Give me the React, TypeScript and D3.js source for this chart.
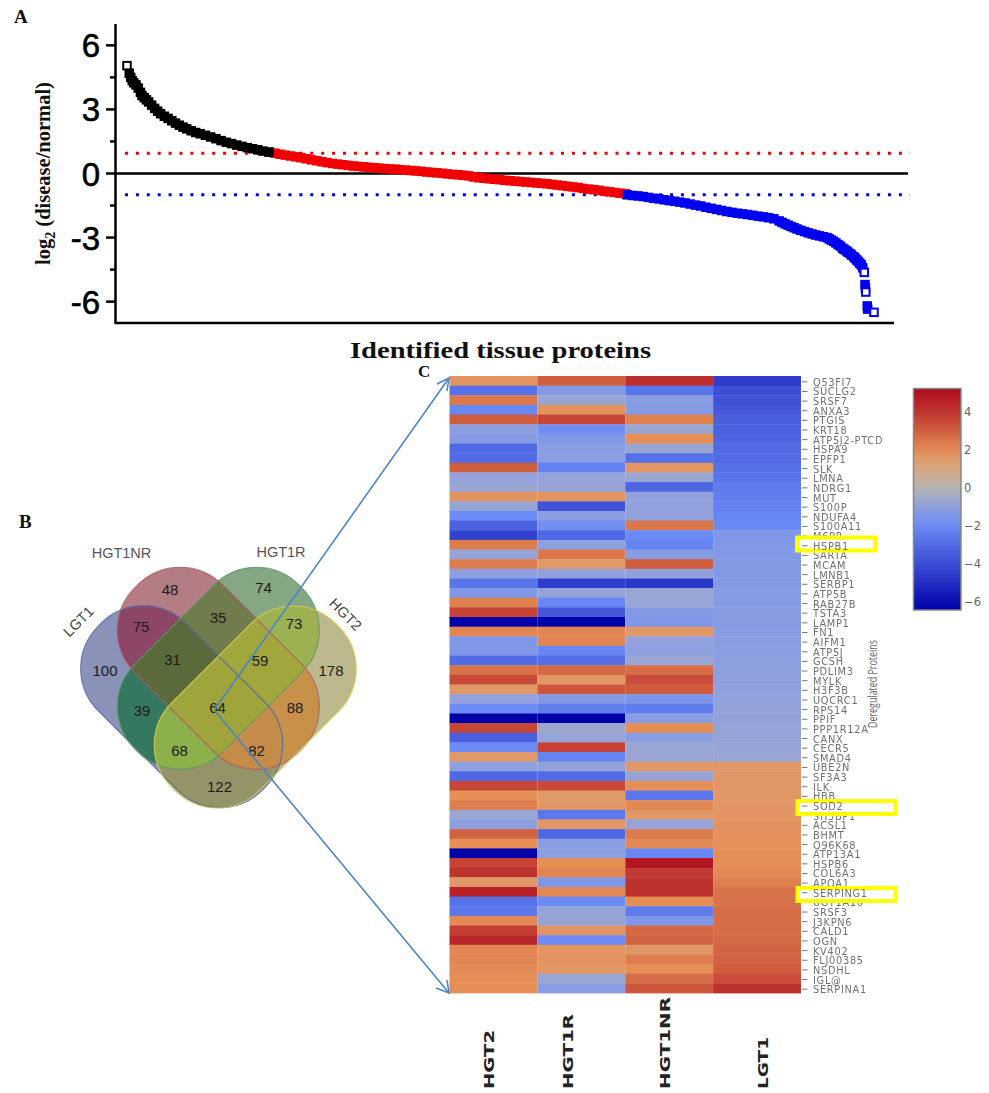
import React from "react";
import * as d3 from "d3";

// ---------- Panel A data (rank, log2 ratio) ----------
const blackRanks = [0,3,5,7,9,12,15,18,20,23,26,29,33,37,41,45,50,55,60,65,70,75,80,86,92,98,105,112,119,126,133,140,147,154,161,168,175,182,190];
const blackValues = [5.05,4.7,4.5,4.35,4.25,4.15,4.0,3.8,3.65,3.55,3.45,3.35,3.2,3.05,2.92,2.8,2.68,2.58,2.47,2.36,2.26,2.17,2.09,2.0,1.92,1.86,1.79,1.71,1.63,1.54,1.46,1.4,1.33,1.27,1.21,1.16,1.11,1.05,1.0];
const redValues = [1.0,.95,.9,.86,.82,.78,.74,.69,.64,.6,.55,.51,.47,.44,.41,.38,.35,.33,.31,.29,.27,.25,.23,.21,.2,.18,.16,.14,.12,.1,.07,.05,.03,.01,-.02,-.04,-.06,-.08,-.11,-.16,-.2,-.22,-.25,-.27,-.29,-.32,-.34,-.36,-.38,-.4,-.42,-.44,-.46,-.48,-.51,-.54,-.57,-.6,-.63,-.66,-.7,-.73,-.76,-.79,-.83,-.86,-.89,-.92,-.95];
const redRanks = redValues.map((_, i) => 191 + i * 7);
const blueRanks = [670,677,684,691,698,705,712,719,726,733,740,747,754,761,768,775,782,789,796,803,810,817,824,831,838,845,852,859,866,873,877,881,885,889,893,897,902,907,912,917,922,927,932,937,940,943,946,949,952,955,958,960,963,965,968,970,973,975,977,979,981,983,985,987,988,988.5,989,991,991.5,1000];
const blueValues = [-1.0,-1.03,-1.05,-1.08,-1.12,-1.16,-1.19,-1.23,-1.27,-1.3,-1.34,-1.38,-1.43,-1.48,-1.52,-1.58,-1.63,-1.68,-1.73,-1.78,-1.82,-1.86,-1.89,-1.92,-1.96,-2.0,-2.03,-2.07,-2.12,-2.22,-2.29,-2.36,-2.42,-2.48,-2.54,-2.6,-2.66,-2.72,-2.78,-2.83,-2.88,-2.92,-2.96,-3.0,-3.06,-3.12,-3.18,-3.25,-3.33,-3.4,-3.5,-3.55,-3.62,-3.68,-3.75,-3.82,-3.9,-3.98,-4.05,-4.12,-4.2,-4.28,-4.42,-4.63,-5.2,-5.35,-5.55,-6.2,-6.35,-6.5];
const yMajor = [-6, -3, 0, 3, 6];
const yMinor = [-4.5, -1.5, 1.5, 4.5];

// ---------- Panel B data ----------
const setKeys = ["L", "N", "R", "Y"];
const setNames = ["LGT1", "HGT1NR", "HGT1R", "HGT2"];
const regionKeys = ["L","N","R","Y","LN","NR","RY","LR","NY","LY","LNR","NRY","LRY","LNY","LNRY"];
const regionColors = ["#8a92b8","#b47d84","#86a783","#bdb98c","#8e4668","#717c4c","#9cb14f","#34795f","#c89149","#949468","#5a6a3a","#a1a73d","#8cb04a","#c48c48","#a0a53b"];
const vennCounts = [100,48,74,178,75,35,73,39,88,122,31,59,68,82,64];

// ---------- Panel C data ----------
const proteins = ["Q53FI7","SUCLG2","SRSF7","ANXA3","PTGIS","KRT18","ATP5J2-PTCD","HSPA9","EPFP1","SLK","LMNA","NDRG1","MUT","S100P","NDUFA4","S100A11","M6PR","HSPB1","SARTA","MCAM","LMNB1","SERBP1","ATP5B","RAB27B","TSTA3","LAMP1","FN1","AIFM1","ATP5J","GCSH","PDLIM3","MYLK","H3F3B","UQCRC1","RPS14","PPIF","PPP1R12A","CANX","CECR5","SMAD4","UBE2N","SF3A3","ILK","HBB","SOD2","SH3BP1","ACSL1","BHMT","Q96K68","ATP13A1","HSPB6","COL6A3","APOA1","SERPING1","UGT1A10","SRSF3","J3KPN6","CALD1","OGN","KV402","FLJ00385","NSDHL","IGL@","SERPINA1"];
const groups = ["HGT2", "HGT1R", "HGT1NR", "LGT1"];
const hgt2 = [1.8,-2.8,2.5,-2.1,3.1,-1.0,-1.2,-3.0,-3.0,3.0,-0.9,-0.7,1.8,-0.8,-2.0,-3.3,-4.3,2.4,-0.8,2.4,-1.0,-2.7,-1.4,2.3,3.7,-6.4,2.2,-1.4,-1.4,-3.0,2.6,3.5,1.6,-0.9,-2.0,-6.4,3.6,-3.4,-2.0,1.6,-1.0,-3.1,3.6,2.0,2.4,-0.7,-1.0,2.9,2.0,-6.4,3.7,4.1,1.6,4.5,-2.8,-2.6,2.1,3.8,4.4,2.2,2.2,2.1,2.0,2.0];
const hgt1r = [3.0,-1.3,-0.7,1.9,3.6,-1.8,-1.4,-1.1,-1.1,-2.3,-0.8,-0.8,1.8,-3.8,-1.1,-1.8,-3.1,-1.0,2.5,1.6,-0.9,-4.5,-0.8,-2.1,-3.6,-6.4,2.2,2.2,-2.1,-2.9,2.8,1.7,3.2,-1.3,-2.4,-6.4,-0.6,-0.8,3.7,-2.2,-0.9,-3.0,3.5,1.6,1.7,-2.6,1.7,-3.1,-1.1,-1.0,2.0,2.2,-1.4,2.1,-2.0,-0.8,-0.8,1.7,-1.9,1.8,1.8,1.7,-0.7,-1.1];
const hgt1nr = [4.2,-2.7,-1.1,-1.2,2.3,-0.7,2.0,-0.7,-2.8,1.7,-0.7,-3.2,-0.9,-0.9,-0.9,2.5,-2.0,-2.2,-1.2,3.1,-0.9,-4.6,-0.7,-0.7,-1.3,-1.4,1.6,-0.9,-1.0,-0.7,2.7,3.4,3.1,-1.5,-2.5,-1.1,2.0,-1.1,-0.7,-0.7,1.6,-0.8,2.0,-2.6,2.1,1.6,-0.8,2.4,2.1,-2.1,5.0,3.9,4.1,4.1,2.0,-2.5,-1.4,2.8,2.9,1.6,2.4,2.0,2.7,3.2];
const lgt1 = [-4.5,-3.9,-3.8,-3.6,-3.4,-3.3,-3.2,-3.1,-3.0,-2.8,-2.7,-2.5,-2.4,-2.3,-2.1,-2.0,-1.4,-1.35,-1.3,-1.3,-1.25,-1.25,-1.2,-1.2,-1.15,-1.15,-1.1,-1.1,-1.05,-1.0,-1.0,-0.95,-0.95,-0.9,-0.85,-0.85,-0.8,-0.8,-0.75,-0.7,1.6,1.65,1.65,1.7,1.7,1.75,1.8,1.85,1.9,1.95,2.0,2.1,2.3,2.6,2.6,2.7,2.7,2.7,2.8,2.9,2.9,3.1,3.4,4.1];
const columns = [hgt2, hgt1r, hgt1nr, lgt1];
const highlighted = ["HSPB1", "SOD2", "SERPING1"];
const colorDomain = [-6.4,-4,-2,-1,0,1,2,3,4,5.3];
const colorRange = ["#0000a8","#3a4cd4","#6a8af5","#8e9fe0","#b4b4b4","#d8a882","#e58e56","#d05f40","#c03530","#ac0a1c"];
const colorTicks = [-6,-4,-2,0,2,4];

// ---------- layout ----------
const W = 989, H = 1093;
const serif = "'Liberation Serif', serif";
const sans = "'Liberation Sans', sans-serif";
const dejavu = "'DejaVu Sans', sans-serif";

const y = d3.scaleLinear().domain([-7, 7]).range([323, 24]);
const x = d3.scaleLinear().domain([0, 1000]).range([127, 874]);
const rowY = d3.scaleBand<string>().domain(proteins).range([376, 993]);
const colX = d3.scaleBand<string>().domain(groups).range([449.5, 801]);
const color = d3.scaleLinear<string>().domain(colorDomain).range(colorRange).interpolate(d3.interpolateRgb).clamp(true);
const barY = d3.scaleLinear().domain([-6.4, 5.26]).range([610, 388]);

// venn geometry: centre x, centre y, rotation
const vennShape: Record<string, number[]> = {
  L: [181.7, 706.7, 45],
  N: [218.3, 668.3, 45],
  R: [218.3, 668.3, -45],
  Y: [255.3, 707, -45],
};
const vennLen = 232, vennWid = 124, vennCorner = 60;
const vennPos = [[105,670.5],[170,589.5],[263.5,587.5],[331,670],[141,626.5],[218,617.5],[294,623.5],[142,710],[295,707.5],[219.5,786],[172.5,659.5],[260,660.5],[179.5,750.5],[256.5,750],[217.5,707.5]];
const vennBorder: Record<string, string> = { L: "#5566aa", N: "#b05a68", R: "#5f9a68", Y: "#d6d64e" };

function Stadium({ k, ...rest }: any) {
  const [cx, cy, a] = vennShape[k];
  return <rect x={-vennLen / 2} y={-vennWid / 2} width={vennLen} height={vennWid} rx={vennCorner} ry={vennCorner} transform={`translate(${cx},${cy}) rotate(${a})`} {...rest} />;
}

function Squares({ ranks, values, stroke, reverse, openEnd }: any) {
  const pts = ranks.map((r: number, i: number) => ({ cx: x(r), cy: y(values[i]) }));
  if (reverse) pts.reverse();
  return (
    <g>
      {pts.map((p: any, i: number) => {
        const n = pts[i + 1];
        const hollow = n ? Math.hypot(n.cx - p.cx, n.cy - p.cy) > 8 : openEnd;
        return <rect key={i} x={p.cx - 3.75} y={p.cy - 3.75} width={7.5} height={7.5} fill={hollow ? "#fff" : stroke} stroke={stroke} strokeWidth={2} />;
      })}
    </g>
  );
}

function PanelA() {
  return (
    <g>
      <line x1={125} x2={910} y1={y(0.95)} y2={y(0.95)} stroke="#f00000" strokeWidth={3} strokeDasharray="3 7.9" />
      <line x1={125} x2={910} y1={y(-1)} y2={y(-1)} stroke="#0000e0" strokeWidth={3} strokeDasharray="3 7.9" />
      <line x1={115} x2={908} y1={y(0)} y2={y(0)} stroke="#000" strokeWidth={2.5} />
      <line x1={115.5} x2={115.5} y1={y(7)} y2={324} stroke="#000" strokeWidth={2.5} />
      <line x1={115} x2={894} y1={323} y2={323} stroke="#000" strokeWidth={2.5} />
      {yMajor.map((t) => (
        <g key={t}>
          <line x1={106} x2={115} y1={y(t)} y2={y(t)} stroke="#000" strokeWidth={2.5} />
          <text x={100} y={y(t) + 12} textAnchor="end" fontFamily={sans} fontSize={33} stroke="#000" strokeWidth={0.6}>{t}</text>
        </g>
      ))}
      {yMinor.map((t) => (
        <line key={t} x1={110} x2={115} y1={y(t)} y2={y(t)} stroke="#000" strokeWidth={2.5} />
      ))}
      <Squares ranks={redRanks} values={redValues} stroke="#f00000" />
      <Squares ranks={blueRanks} values={blueValues} stroke="#0000f0" openEnd />
      <Squares ranks={blackRanks} values={blackValues} stroke="#000" reverse openEnd />
      <text transform="translate(50,265) rotate(-90)" fontFamily={serif} fontWeight="bold" fontSize={20.5} fill="#111">
        log<tspan dy={5} fontSize={14}>2</tspan><tspan dy={-5}> (disease/normal)</tspan>
      </text>
      <text x={350} y={358} fontFamily={serif} fontWeight="bold" fontSize={24} textLength={301} lengthAdjust="spacingAndGlyphs" fill="#111">Identified tissue proteins</text>
      <text x={14} y={23} fontFamily={serif} fontWeight="bold" fontSize={19} fill="#111">A</text>
      <text x={19} y={528} fontFamily={serif} fontWeight="bold" fontSize={19} fill="#111">B</text>
      <text x={418} y={377} fontFamily={serif} fontWeight="bold" fontSize={17} fill="#111">C</text>
    </g>
  );
}

function PanelB() {
  const sorted = regionKeys.map((k, i) => ({ k, c: regionColors[i] })).sort((a, b) => a.k.length - b.k.length);
  return (
    <g>
      <defs>
        {setKeys.map((k) => (
          <clipPath id={`venn-${k}`} key={k}><Stadium k={k} /></clipPath>
        ))}
      </defs>
      {sorted.map(({ k, c }) =>
        k.split("").reduce(
          (child: any, letter: string) => <g clipPath={`url(#venn-${letter})`}>{child}</g>,
          <rect x={60} y={540} width={320} height={290} fill={c} />
        )
      ).map((el: any, i: number) => <g key={i}>{el}</g>)}
      {setKeys.map((k) => (
        <Stadium key={k} k={k} fill="none" stroke={vennBorder[k]} strokeWidth={1.2} strokeOpacity={0.8} />
      ))}
      {vennCounts.map((c, i) => (
        <text key={i} x={vennPos[i][0]} y={vennPos[i][1] + 5.5} textAnchor="middle" fontFamily={sans} fontSize={15} fill="#1c1c1c">{c}</text>
      ))}
      <text x={121.5} y={558} textAnchor="middle" fontFamily={sans} fontSize={14.5} fill="#555">{setNames[1]}</text>
      <text x={281} y={557} textAnchor="middle" fontFamily={sans} fontSize={14.5} fill="#555">{setNames[2]}</text>
      <text transform="translate(82,625) rotate(-45)" textAnchor="middle" fontFamily={sans} fontSize={14.5} fill="#444">{setNames[0]}</text>
      <text transform="translate(342,618) rotate(45)" textAnchor="middle" fontFamily={sans} fontSize={14.5} fill="#444">{setNames[3]}</text>
    </g>
  );
}

function PanelC() {
  const bh = rowY.bandwidth();
  const label = (p: string) => (
    <g key={p}>
      <line x1={802} x2={807.5} y1={rowY(p)! + bh / 2 + 1} y2={rowY(p)! + bh / 2 + 1} stroke="#777" strokeWidth={1} />
      <text x={813} y={rowY(p)! + bh / 2 + 5} fontFamily={dejavu} fontSize={9.8} letterSpacing={0.7} fill="#707070">{p}</text>
    </g>
  );
  const boxes = [[797, 537.5, 78, 13], [797.5, 801, 98, 13], [797.5, 888, 98, 13]];
  const stops = d3.range(0, 1.0001, 0.05).map((t) => barY.invert(610 - t * 222));
  return (
    <g>
      <defs>
        <filter id="soft" x="-2%" y="-2%" width="104%" height="104%"><feGaussianBlur stdDeviation="0.45" /></filter>
        <linearGradient id="bar" x1="0" y1="1" x2="0" y2="0">
          {stops.map((v, i) => <stop key={i} offset={i / (stops.length - 1)} stopColor={color(v)} />)}
        </linearGradient>
      </defs>
      <g filter="url(#soft)">
        {groups.map((g, c) =>
          proteins.map((p, r) => (
            <rect key={`${g}${p}`} x={colX(g)} y={rowY(p)} width={colX.bandwidth()} height={bh + 0.4} fill={color(columns[c][r])} />
          ))
        )}
        {proteins.map(label)}
      </g>
      {boxes.map((b, i) => (
        <rect key={i} x={b[0]} y={b[1]} width={b[2]} height={b[3]} fill="#fff" stroke="#ffff00" strokeWidth={4} />
      ))}
      <g filter="url(#soft)">{highlighted.map(label)}</g>
      <text transform="translate(877,728) rotate(-90)" fontFamily="'Open Sans', sans-serif" fontSize={13.5} textLength={88} lengthAdjust="spacingAndGlyphs" fill="#666">Deregulated Proteins</text>
      {groups.map((g, i) => {
        const tops = [1030, 1014, 997, 1037];
        const xs = [494, 573, 670, 768];
        return (
          <text key={g} transform={`translate(${xs[i]},1089) rotate(-90)`} fontFamily={dejavu} fontWeight="bold" fontSize={14.5} textLength={1089 - tops[i]} lengthAdjust="spacingAndGlyphs" fill="#222">{g}</text>
        );
      })}
      <rect x={913.5} y={388.5} width={47.5} height={221.5} fill="url(#bar)" stroke="#888" strokeWidth={1.5} />
      {colorTicks.map((t) => (
        <text key={t} x={964} y={barY(t) + 4} fontFamily={dejavu} fontSize={11.5} fill="#666">{t < 0 ? `\u2212${-t}` : t}</text>
      ))}
    </g>
  );
}

function Arrows() {
  const s = "#4a86c8";
  return (
    <g fill="none" stroke={s} strokeWidth={1.6}>
      <path d="M215,709 L449,378" />
      <path d="M437,384 L449,378 L447,391" />
      <path d="M215,711 L449,993" />
      <path d="M447,980 L449,993 L436,988" />
    </g>
  );
}

export default function App() {
  return (
    <svg width={W} height={H} viewBox={`0 0 ${W} ${H}`} style={{ position: "absolute", left: 0, top: 0, display: "block", background: "#fff" }}>
      <PanelA />
      <PanelB />
      <PanelC />
      <Arrows />
    </svg>
  );
}
